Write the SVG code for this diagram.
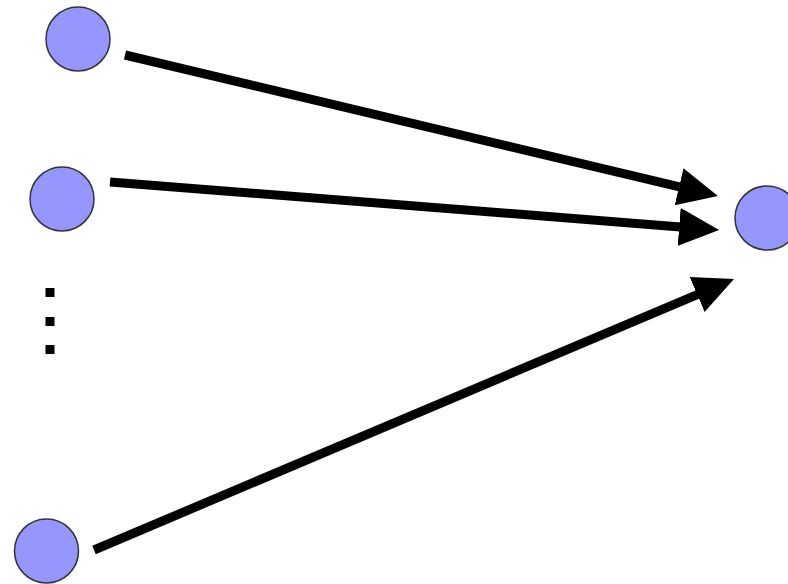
<svg xmlns="http://www.w3.org/2000/svg" width="788" height="584" viewBox="0 0 788 584">
<style>
.node{fill:#9696ff;stroke:#333;stroke-width:1.5}
.edge{fill:none;stroke:#000;stroke-width:9;marker-end:url(#ah)}
.dot{fill:#000}
</style>
<defs>
<marker id="ah" markerUnits="userSpaceOnUse" markerWidth="44" markerHeight="40" refX="20" refY="19" orient="auto" viewBox="0 0 44 40">
<path d="M0,0 L40,19 L0,38 z" fill="#000"/>
</marker>
</defs>
<rect width="788" height="584" fill="#fff"/>
<g id="edges">
<path class="edge" d="M125,55 L698.5,191.4"/>
<path class="edge" d="M110,182 L699.1,228.4"/>
<path class="edge" d="M94,550 L715.6,286.8"/>
</g>
<g id="n1"><circle class="node" cx="78" cy="39" r="32"/></g>
<g id="n2"><circle class="node" cx="62" cy="199" r="32"/></g>
<g id="n3"><circle class="node" cx="46.5" cy="551" r="32"/></g>
<g id="out"><circle class="node" cx="767" cy="218" r="32"/></g>
<g id="ellipsis">
<rect class="dot" x="45.5" y="288" width="9" height="9"/>
<rect class="dot" x="45.5" y="317" width="9" height="9"/>
<rect class="dot" x="45.5" y="345" width="9" height="9"/>
</g>
</svg>
